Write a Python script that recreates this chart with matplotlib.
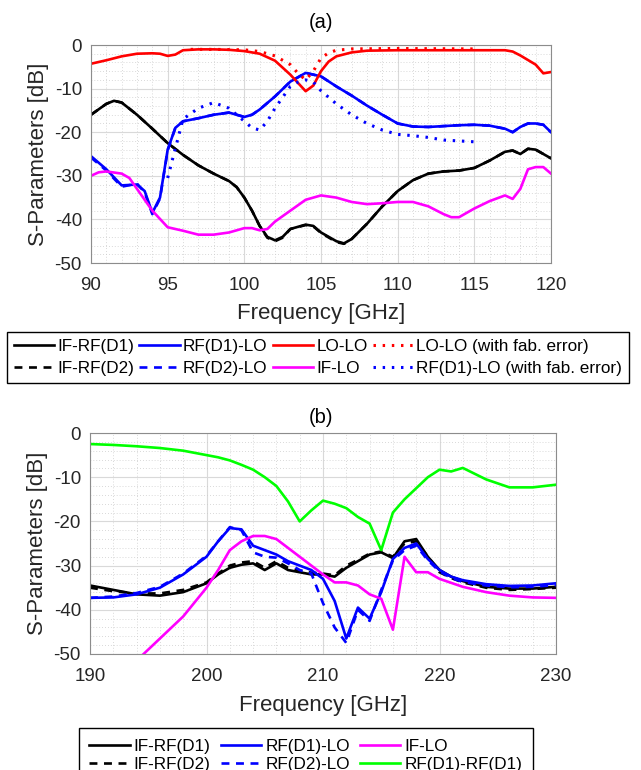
import matplotlib
matplotlib.use("Agg")
import matplotlib.pyplot as plt
from matplotlib.ticker import MultipleLocator

plt.rcParams["font.family"] = ["Liberation Sans", "DejaVu Sans"]
plt.rcParams["axes.unicode_minus"] = False

# ---- panel (a): 90-120 GHz ----
f_lolo = [90, 91, 92, 93, 94, 94.5, 95, 95.5, 96, 97, 98, 99, 100, 101, 102, 103, 104,
          104.5, 105, 105.5, 106, 107, 108, 110, 115, 117, 117.5, 118, 119, 119.5, 120]
s_lolo = [-4.3, -3.5, -2.6, -2.0, -1.9, -2.0, -2.5, -2.2, -1.2, -1.0, -1.0, -1.1, -1.4, -2.0,
          -3.6, -6.8, -10.6, -9.3, -6.0, -3.8, -2.6, -1.7, -1.3, -1.2, -1.2, -1.2, -1.5, -2.4,
          -4.5, -6.5, -6.2]

f_lolo_fab = [96.5, 98, 100, 101, 102, 103, 103.5, 104, 104.5, 105, 105.5, 106, 107, 110, 115]
s_lolo_fab = [-1.0, -1.0, -1.1, -1.5, -2.5, -4.5, -6.5, -8.0, -6.0, -3.0, -1.8, -1.2, -0.9,
              -0.8, -0.9]

f_rflo = [90, 91, 92, 93, 93.5, 94, 94.5, 95, 95.5, 96, 97, 98, 99, 100, 100.5, 101, 102, 103,
          104, 105, 106, 107, 108, 109, 110, 111, 112, 113, 114, 115, 116, 117, 117.5, 118,
          118.5, 119, 119.5, 120]
s_rflo = [-25.5, -28.5, -32.2, -32.0, -33.5, -38.5, -35.0, -24.0, -19.0, -17.5, -16.8, -16.0,
          -15.5, -16.5, -16.0, -14.8, -11.8, -8.4, -6.4, -7.2, -9.5, -11.6, -13.9, -16.0, -18.0,
          -18.7, -18.8, -18.6, -18.4, -18.3, -18.5, -19.2, -20.0, -18.8, -18.0, -18.0, -18.3,
          -20.0]
# RF(D2)-LO lies on top of RF(D1)-LO in this band
s_rflo_d2 = [-25.8, -28.8, -32.5, -31.8, -33.8, -38.8, -35.2, -24.2, -19.0, -17.5, -16.8,
             -16.0, -15.5, -16.5, -16.0, -14.8, -11.8, -8.4, -6.4, -7.2, -9.5, -11.6, -13.9,
             -16.0, -18.0, -18.7, -18.8, -18.6, -18.4, -18.3, -18.5, -19.2, -20.0, -18.8,
             -18.0, -18.0, -18.3, -20.0]

f_rflo_fab = [95, 96, 97, 98, 99, 100, 100.5, 101, 101.5, 102, 102.5, 103, 103.5, 104, 104.5,
              105, 106, 107, 108, 109, 110, 111, 112, 113, 114, 115]
s_rflo_fab = [-30.5, -17.0, -14.5, -13.2, -14.5, -17.5, -19.0, -19.5, -17.5, -14.5, -12.0,
              -9.5, -8.5, -8.0, -8.5, -10.5, -13.5, -16.0, -18.0, -19.5, -20.5, -20.8, -21.2,
              -21.8, -22.0, -22.2]

f_ifrf = [90, 91, 91.5, 92, 93, 94, 95, 96, 97, 98, 99, 99.5, 100, 100.5, 101, 101.5, 102,
          102.5, 103, 104, 104.5, 105, 106, 106.5, 107, 108, 109, 110, 111, 112, 113, 114, 115,
          116, 117, 117.5, 118, 118.5, 119, 120]
s_ifrf = [-16.0, -13.5, -12.8, -13.2, -16.0, -19.2, -22.5, -25.2, -27.6, -29.5, -31.2, -32.6,
          -35.0, -38.0, -41.5, -44.0, -44.8, -44.0, -42.2, -41.2, -41.5, -43.0, -45.0, -45.5,
          -44.5, -41.0, -37.0, -33.5, -31.0, -29.5, -29.0, -28.8, -28.2, -26.5, -24.5, -24.2,
          -25.0, -23.8, -24.0, -26.0]
# IF-RF(D2) lies on top of IF-RF(D1) in this band
s_ifrf_d2 = [-16.0, -13.5, -12.8, -13.2, -16.0, -19.2, -22.5, -25.2, -27.6, -29.5, -31.2,
             -32.6, -35.0, -38.0, -41.5, -44.2, -45.0, -44.2, -42.2, -41.3, -41.6, -43.1,
             -45.2, -45.6, -44.5, -41.0, -37.0, -33.5, -31.0, -29.5, -29.0, -28.8, -28.2,
             -26.5, -24.5, -24.2, -25.0, -23.8, -24.0, -26.0]

f_iflo = [90, 90.5, 91, 92, 92.5, 93, 94, 95, 96, 97, 98, 99, 100, 100.5, 101, 101.5, 102, 103,
          104, 105, 106, 107, 108, 109, 110, 111, 112, 113, 113.5, 114, 115, 116, 117, 117.5,
          118, 118.5, 119, 119.5, 120]
s_iflo = [-30.0, -29.2, -29.0, -29.5, -30.5, -33.0, -38.0, -41.8, -42.6, -43.5, -43.5, -43.0,
          -42.0, -42.0, -42.5, -42.2, -40.5, -38.0, -35.5, -34.5, -35.0, -36.0, -36.5, -36.3,
          -36.0, -36.0, -37.0, -38.8, -39.5, -39.5, -37.5, -35.8, -34.5, -35.3, -33.0, -28.5,
          -28.0, -28.0, -29.5]

# ---- panel (b): 190-230 GHz ----
f_b = [190, 192, 194, 196, 198, 200, 201, 202, 203, 204, 205, 206, 207, 208, 209, 210, 211,
       212, 213, 214, 215, 216, 217, 218, 219, 220, 221, 222, 224, 226, 228, 230]
s_rfrf = [-2.5, -2.7, -3.0, -3.4, -4.0, -5.0, -5.5, -6.2, -7.2, -8.3, -10.0, -12.0, -15.5,
          -20.0, -17.5, -15.3, -16.0, -17.0, -19.0, -20.5, -26.5, -18.0, -15.0, -12.5, -10.0,
          -8.3, -8.7, -7.9, -10.5, -12.3, -12.3, -11.7]
s_rflo_b = [-37.3, -37.2, -36.5, -35.0, -32.0, -28.0, -24.5, -21.5, -21.8, -25.5, -26.5,
            -27.5, -29.0, -30.0, -31.0, -33.0, -38.0, -46.5, -39.5, -42.0, -36.0, -28.5,
            -26.0, -25.0, -28.5, -31.0, -32.5, -33.3, -34.2, -34.6, -34.5, -34.0]
s_rflo_d2_b = [-37.3, -37.0, -36.2, -34.8, -31.8, -27.8, -24.5, -21.3, -22.0, -27.0, -28.0,
               -28.2, -29.5, -31.0, -31.8, -38.5, -44.0, -47.5, -40.0, -42.5, -35.5, -28.8,
               -26.5, -25.5, -28.8, -31.3, -32.8, -33.7, -34.5, -34.9, -34.8, -34.4]
s_ifrf_b = [-34.5, -35.5, -36.5, -36.8, -36.0, -34.0, -32.0, -30.5, -29.8, -29.5, -31.0,
            -29.5, -31.0, -31.5, -32.0, -32.0, -32.5, -30.5, -29.0, -27.5, -27.0, -28.3,
            -24.5, -24.0, -28.0, -31.0, -32.5, -33.5, -34.8, -35.2, -35.2, -34.8]
s_ifrf_d2_b = [-35.0, -35.8, -36.3, -36.3, -35.5, -33.8, -31.8, -30.0, -29.3, -29.0, -30.5,
               -29.0, -30.5, -31.2, -31.6, -31.8, -32.2, -30.0, -28.7, -27.3, -26.8, -28.0,
               -25.0, -24.5, -28.0, -31.5, -32.8, -33.8, -35.0, -35.5, -35.3, -35.0]

f_iflo_b = [194, 196, 198, 200, 201, 202, 203, 204, 205, 206, 207, 208, 209, 210, 211, 212,
            213, 214, 215, 216, 217, 218, 219, 220, 222, 224, 226, 228, 230]
s_iflo_b = [-51.5, -46.5, -41.5, -35.0, -31.0, -26.5, -24.5, -23.3, -23.3, -24.0, -26.0,
            -28.0, -30.0, -32.0, -33.8, -33.8, -34.5, -36.5, -37.5, -44.5, -28.0, -31.5,
            -31.5, -33.0, -34.8, -36.0, -36.8, -37.2, -37.3]

BLACK, BLUE, RED, MAG, GREEN = "#000000", "#0000ff", "#ff0000", "#ff00ff", "#00ff00"
TXT = "#262626"
LW = 1.9
DOT = (0, (0.8, 2.2))
DASH = (0, (3, 2.5))


def style_axes(ax, xlim, xmajor, xminor):
    ax.set_xlim(*xlim)
    ax.set_ylim(-50, 0)
    ax.xaxis.set_major_locator(MultipleLocator(xmajor))
    ax.xaxis.set_minor_locator(MultipleLocator(xminor))
    ax.yaxis.set_major_locator(MultipleLocator(10))
    ax.yaxis.set_minor_locator(MultipleLocator(2))
    ax.grid(True, which="major", color="#d9d9d9", lw=0.8)
    ax.grid(True, which="minor", color="#cccccc", lw=0.6, ls=(0, (1, 2.5)))
    ax.set_axisbelow(True)
    ax.tick_params(which="both", direction="in", labelsize=13.5, colors=TXT, length=0)
    ax.tick_params(axis="x", pad=10)
    ax.tick_params(axis="y", pad=6.5)
    for sp in ax.spines.values():
        sp.set_color("#8c8c8c")
        sp.set_linewidth(0.8)
    ax.set_xlabel("Frequency [GHz]", fontsize=16, color=TXT, va="center")
    ax.set_ylabel("S-Parameters [dB]", fontsize=16, color=TXT, va="center")


fig = plt.figure(figsize=(6.41, 7.70), dpi=100)

# panel (a)
ax1 = fig.add_axes([91 / 641, 1 - 263 / 770, 460 / 641, 218 / 770])
h_ifrf, = ax1.plot(f_ifrf, s_ifrf, color=BLACK, lw=LW)
h_ifrf2, = ax1.plot(f_ifrf, s_ifrf_d2, color=BLACK, lw=LW, ls=DASH)
h_rflo, = ax1.plot(f_rflo, s_rflo, color=BLUE, lw=LW)
h_rflo2, = ax1.plot(f_rflo, s_rflo_d2, color=BLUE, lw=LW, ls=DASH)
h_lolo, = ax1.plot(f_lolo, s_lolo, color=RED, lw=LW)
h_iflo, = ax1.plot(f_iflo, s_iflo, color=MAG, lw=LW)
h_lolo_f, = ax1.plot(f_lolo_fab, s_lolo_fab, color=RED, lw=2.2, ls=DOT)
h_rflo_f, = ax1.plot(f_rflo_fab, s_rflo_fab, color=BLUE, lw=2.2, ls=DOT)
style_axes(ax1, (90, 120), 5, 1)
ax1.xaxis.set_label_coords(0.5, (263 - 313) / 218)
ax1.yaxis.set_label_coords((38 - 91) / 460, 0.5)
fig.text(0.5, 1 - 23 / 770, "(a)", fontsize=14.5, ha="center", va="center")

fig.legend([h_ifrf, h_ifrf2, h_rflo, h_rflo2, h_lolo, h_iflo, h_lolo_f, h_rflo_f],
           ["IF-RF(D1)", "IF-RF(D2)", "RF(D1)-LO", "RF(D2)-LO", "LO-LO", "IF-LO",
            "LO-LO (with fab. error)", "RF(D1)-LO (with fab. error)"],
           ncol=4, loc="upper center", bbox_to_anchor=(318 / 641, 1 - 332 / 770),
           fontsize=12.3, frameon=True, fancybox=False, edgecolor="#000000", framealpha=1,
           handlelength=2.35, handletextpad=0.2, columnspacing=0.3, labelspacing=0.4,
           borderpad=0.42, borderaxespad=0)

# panel (b)
ax2 = fig.add_axes([90 / 641, 1 - 654 / 770, 466 / 641, 221 / 770])
g_ifrf, = ax2.plot(f_b, s_ifrf_b, color=BLACK, lw=LW)
g_ifrf2, = ax2.plot(f_b, s_ifrf_d2_b, color=BLACK, lw=LW, ls=DASH)
g_rflo, = ax2.plot(f_b, s_rflo_b, color=BLUE, lw=LW)
g_rflo2, = ax2.plot(f_b, s_rflo_d2_b, color=BLUE, lw=LW, ls=DASH)
g_iflo, = ax2.plot(f_iflo_b, s_iflo_b, color=MAG, lw=LW)
g_rfrf, = ax2.plot(f_b, s_rfrf, color=GREEN, lw=LW)
style_axes(ax2, (190, 230), 10, 2)
ax2.xaxis.set_label_coords(0.5, (654 - 705) / 221)
ax2.yaxis.set_label_coords((38 - 90) / 466, 0.5)
fig.text(0.5, 1 - 418 / 770, "(b)", fontsize=14.5, ha="center", va="center")

fig.legend([g_ifrf, g_ifrf2, g_rflo, g_rflo2, g_iflo, g_rfrf],
           ["IF-RF(D1)", "IF-RF(D2)", "RF(D1)-LO", "RF(D2)-LO", "IF-LO", "RF(D1)-RF(D1)"],
           ncol=3, loc="upper center", bbox_to_anchor=(306 / 641, 1 - 728 / 770),
           fontsize=12.3, frameon=True, fancybox=False, edgecolor="#000000", framealpha=1,
           handlelength=2.35, handletextpad=0.25, columnspacing=0.6, labelspacing=0.2,
           borderpad=0.62, borderaxespad=0)

fig.savefig("out.png", dpi=100)
